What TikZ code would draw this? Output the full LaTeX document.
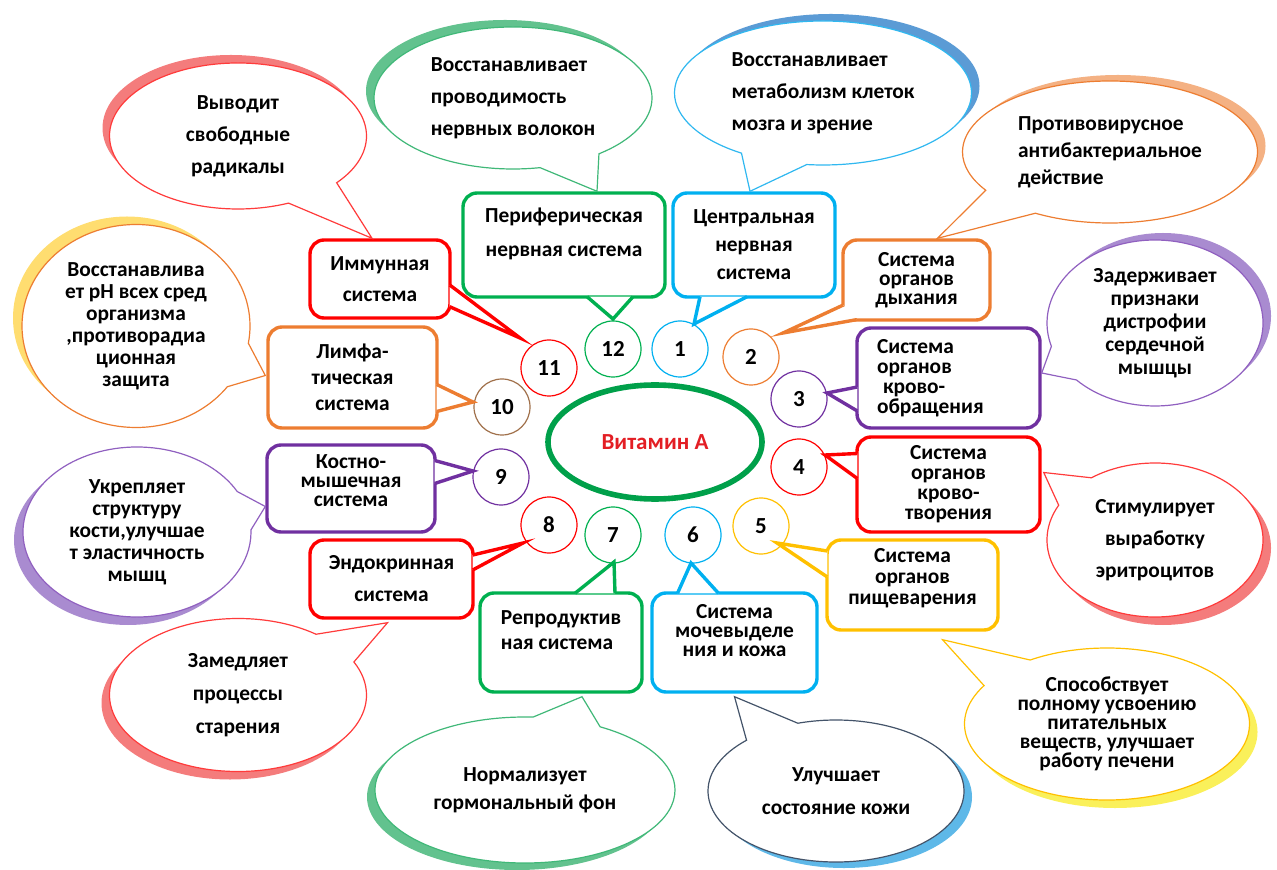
\documentclass[tikz,border=0pt]{standalone}
\usepackage{fontspec}
\setmainfont{Carlito}
\usetikzlibrary{shapes.geometric, shapes.callouts, calc}
\definecolor{cred}{HTML}{FF0000}
\definecolor{cgreen}{HTML}{00B050}
\definecolor{cblue}{HTML}{00B0F0}
\definecolor{corange}{HTML}{ED7D31}
\definecolor{cpurple}{HTML}{7030A0}
\definecolor{cyellow}{HTML}{FFC000}
\definecolor{cbrown}{HTML}{A0704A}
\definecolor{cslate}{HTML}{44546A}
\definecolor{cvit}{HTML}{00A04A}
\definecolor{ctitle}{HTML}{E31E24}
\definecolor{bred}{HTML}{FF3B3B}
\definecolor{bgreen}{HTML}{40B878}
\definecolor{bblue}{HTML}{30B8F0}
\definecolor{bpurple}{HTML}{9060C0}
\definecolor{sred}{HTML}{F47C7C}
\definecolor{sgreen}{HTML}{62C28E}
\definecolor{sblue}{HTML}{5B9BD5}
\definecolor{sorange}{HTML}{F4B183}
\definecolor{spurple}{HTML}{A98BD0}
\definecolor{syellow}{HTML}{FAF05A}
\definecolor{sgold}{HTML}{FFDD70}
\definecolor{sltblue}{HTML}{5EB8E8}
\tikzset{
  every picture/.style={line width=0.6pt},
  txt/.style={font=\fontsize{10.7pt}{#1}\selectfont\bfseries},
  sysbox/.style={draw=#1, line width=1.7pt, rounded corners=7pt, fill=white, align=center, inner sep=2pt},
  tailline/.style={draw=#1, fill=white, line width=1.7pt, line join=miter},
  bubble/.style={ellipse callout, draw=#1, fill=white, line width=0.6pt, inner sep=0pt, align=center, callout pointer arc=27},
  num/.style={circle, draw=#1, fill=white, minimum size=28pt, inner sep=0pt, font=\fontsize{11.5pt}{13pt}\selectfont\bfseries},
  vit/.style={ellipse, draw=cvit, line width=2.8pt, minimum width=107pt, minimum height=57pt, text=ctitle, font=\fontsize{11.5pt}{13pt}\selectfont\bfseries},
}
% empty last line: lifts the text inside a box
\def\lift#1{\\[#1]\mbox{}}
\begin{document}
\begin{tikzpicture}[x=0.5pt, y=-0.5pt]
  % one unit = one pixel of the 1277 x 870 layout
  \useasboundingbox (0,0) rectangle (1277,870);
  % coloured rims behind the bubbles
  \foreach \x/\y/\w/\h/\c in {231/128/128.5/73/sred, 505/91/139/71/sgreen, 831/86/148.5/72/sblue, 1118/146/147.5/71/sorange,
      1163/316/108/83/spurple, 1163/548/108/77/sred, 1115/732/142.5/76/syellow, 844/797/128/71/sltblue,
      517/797/150/73/sgreen, 230/703/128.5/76.5/sred, 128/540/114/85/spurple, 127/318/114/101.5/sgold}
    \fill[\c] (\x,\y) ellipse [x radius=\w, y radius=\h];
  \node[vit] (vit) at (655,442) {Витамин А};
  \foreach \n/\x/\y/\c in {1/680/349/cblue, 2/751/357/corange, 3/799/399/cpurple, 4/799/467/cred, 5/761/526/cyellow, 6/693/535/cblue,
      7/613/535/cgreen, 8/549/525/cred, 9/501/477/cpurple, 10/502/407/cbrown, 11/549/368/cred, 12/613/349/cgreen}
    \node[num=\c] (c\n) at (\x,\y) {\n};
  % organ systems
  \node[sysbox=cred, txt=15.5pt, minimum width=70pt, minimum height=39pt] (imm) at (380,279) {Иммунная\\система};
  \node[sysbox=cgreen, txt=17pt, minimum width=101pt, minimum height=52pt] (perif) at (564,245) {Периферическая\\нервная система\lift{-4.5pt}};
  \node[sysbox=cblue, txt=14pt, minimum width=81pt, minimum height=52pt] (centr) at (754,245) {Центральная\\нервная\\система};
  \node[sysbox=corange, txt=9.5pt, minimum width=73.5pt, minimum height=40pt] (dyh) at (916.5,280) {Система\\органов\\дыхания};
  \node[sysbox=cpurple, txt=10pt, minimum width=91.5pt, minimum height=50pt, text width=71.5pt, align=left] (krobr) at (948.5,378) {Система\\органов\\\hspace*{3pt}крово-\\обращения};
  \node[sysbox=cred, txt=10pt, minimum width=91.5pt, minimum height=47.5pt] (krotv) at (948.5,484.5) {Система\\органов\\крово-\\творения};
  \node[sysbox=cyellow, txt=10.5pt, minimum width=85.5pt, minimum height=45pt] (pishch) at (912.5,585) {Система\\органов\\пищеварения\lift{-2pt}};
  \node[sysbox=cblue, txt=9.5pt, minimum width=82.5pt, minimum height=49.5pt] (mochev) at (734.5,642.5) {Система\\мочевыделе\\ния и кожа\lift{3pt}};
  \node[sysbox=cgreen, txt=12.5pt, minimum width=81pt, minimum height=49.5pt, align=left] (reprod) at (561,642.5) {Репродуктив\\ная система\lift{0pt}};
  \node[sysbox=cred, txt=16pt, minimum width=81.5pt, minimum height=39pt] (endo) at (391.5,579) {Эндокринная\\система};
  \node[sysbox=cpurple, txt=9.5pt, minimum width=84pt, minimum height=43.5pt] (kostn) at (351,488.5) {Костно-\\мышечная\\система\lift{-1.5pt}};
  \node[sysbox=corange, txt=13pt, minimum width=84.5pt, minimum height=50.5pt] (limf) at (352.5,377.5) {Лимфа-\\тическая\\система};
  % tails from the boxes to the numbers
  \path[tailline=cred] ($(imm.east)+(-2,6)$) -- ($(c11)+(-29,-30)$) -- ($(imm.south east)+(-2,-13)$);
  \path[tailline=cgreen] ($(perif.south)+(23,-2)$) -- ($(c12)+(0,-30)$) -- ($(perif.south)+(69,-2)$);
  \path[tailline=cblue] ($(centr.south)+(-54,-2)$) -- ($(c1)+(14,-25)$) -- ($(centr.south)+(-7,-2)$);
  \path[tailline=corange] ($(dyh.west)+(2,25)$) -- ($(c2)+(32,-24)$) -- ($(dyh.south west)+(15,-2)$);
  \path[tailline=cpurple] ($(krobr.west)+(2,9)$) -- ($(c3)+(28,-6)$) -- ($(krobr.west)+(2,33)$);
  \path[tailline=cred] ($(krotv.west)+(2,-31)$) -- ($(c4)+(26,-12)$) -- ($(krotv.west)+(2,-6)$);
  \path[tailline=cyellow] ($(pishch.west)+(2,-34)$) -- ($(c5)+(16,17)$) -- ($(pishch.west)+(2,-8)$);
  \path[tailline=cblue] ($(mochev.north)+(-57,2)$) -- ($(c6)+(-2,28)$) -- ($(mochev.north)+(-16,2)$);
  \path[tailline=cgreen] ($(reprod.north)+(14,2)$) -- ($(c7)+(1,27)$) -- ($(reprod.north)+(54,2)$);
  \path[tailline=cred] ($(endo.east)+(-2,-24)$) -- ($(c8)+(-26,18)$) -- ($(endo.east)+(-2,-9)$);
  \path[tailline=cpurple] ($(kostn.east)+(-2,-28)$) -- ($(c9)+(-28,-6)$) -- ($(kostn.east)+(-2,-5)$);
  \path[tailline=corange] ($(limf.east)+(-2,7)$) -- ($(c10)+(-29,-5)$) -- ($(limf.east)+(-2,34)$);
  % effects
  \node[bubble=bred, txt=16pt, minimum width=128.5pt, minimum height=73pt, callout absolute pointer={($(imm.north)+(-8,0)$)}] (vyv) at (238,136) {Выводит\\свободные\\радикалы};
  \node[bubble=bgreen, txt=16pt, minimum width=139pt, minimum height=71pt, align=left, callout absolute pointer={($(perif.north)+(33,0)$)}] (provod) at (513,98) {Восстанавливает\\проводимость\\нервных волокон};
  \node[bubble=bblue, txt=16pt, minimum width=148.5pt, minimum height=72pt, align=left, callout absolute pointer={($(centr.north)+(-4,0)$)}] (metab) at (823,93) {Восстанавливает\\метаболизм клеток\\мозга и зрение};
  \node[bubble=corange, txt=13.5pt, minimum width=147.5pt, minimum height=71pt, align=left, callout absolute pointer={($(dyh.north)+(21,0)$)}] (protiv) at (1110,152) {Противовирусное\\антибактериальное\\действие};
  \node[bubble=bpurple, txt=11.5pt, minimum width=108pt, minimum height=83pt, callout absolute pointer={($(krobr.east)+(0,-5)$)}] (zader) at (1155,323) {Задерживает\\признаки\\дистрофии\\сердечной\\мышцы};
  \node[bubble=bred, txt=16pt, minimum width=108pt, minimum height=77pt, callout absolute pointer={($(krotv.east)+(2,-12)$)}] (stim) at (1155,540) {Стимулирует\\выработку\\эритроцитов};
  \node[bubble=cyellow, txt=9.5pt, minimum width=142.5pt, minimum height=76pt, callout absolute pointer={($(pishch.south)+(30,8)$)}] (sposob) at (1107,724) {Способствует\\полному усвоению\\питательных\\веществ, улучшает\\работу печени};
  \node[bubble=cslate, txt=16.5pt, minimum width=128pt, minimum height=71pt, callout absolute pointer={($(mochev.south)+(0,3)$)}] (uluch) at (836,791) {Улучшает\\состояние кожи};
  \node[bubble=bgreen, txt=14pt, minimum width=150pt, minimum height=73pt, callout absolute pointer={($(reprod.south)+(21,3)$)}] (normal) at (525,790) {Нормализует\\гормональный фон};
  \node[bubble=bred, txt=16.5pt, minimum width=128.5pt, minimum height=76.5pt, callout absolute pointer={($(endo.south)+(-4,3)$)}] (zamed) at (238,695) {Замедляет\\процессы\\старения};
  \node[bubble=bpurple, txt=11pt, minimum width=114pt, minimum height=85pt, callout absolute pointer={($(kostn.west)+(0,18)$)}] (ukrep) at (137,532) {Укрепляет\\структуру\\кости,улучшае\\т эластичность\\мышц};
  \node[bubble=corange, txt=11pt, minimum width=114pt, minimum height=101.5pt, callout absolute pointer={($(limf.west)+(-1,-2)$)}] (vosst) at (136,326) {Восстанавлива\\ет pH всех сред\\организма\\,противорадиа\\ционная\\защита};
\end{tikzpicture}
\end{document}
